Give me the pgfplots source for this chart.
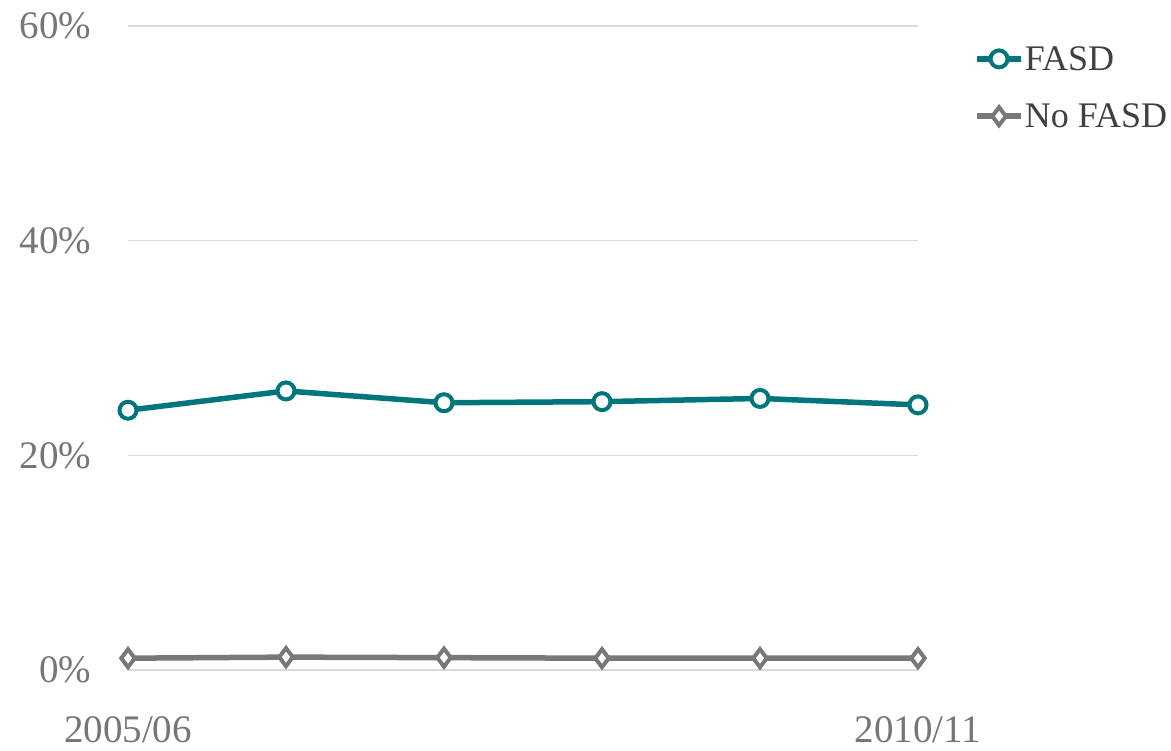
\documentclass[border=0pt]{standalone}
\usepackage{fontspec}
\setmainfont{Liberation Serif}
\usepackage{pgfplots}
\pgfplotsset{compat=1.18}
\definecolor{fasd}{RGB}{0,118,124}
\definecolor{nofasd}{RGB}{118,120,122}
\definecolor{ticktext}{RGB}{118,118,118}
\definecolor{legtext}{RGB}{64,64,64}
\definecolor{gridc}{RGB}{217,217,217}
\begin{document}
\begin{tikzpicture}
\path[use as bounding box] (0bp,0bp) rectangle (1171bp,751bp);
\begin{axis}[
  at={(128bp,81bp)}, anchor=south west,
  scale only axis, width=790bp, height=644bp,
  xmin=0, xmax=5, ymin=0, ymax=60,
  clip=false,
  axis line style={draw=none},
  major tick length=0pt,
  xtick={0,5}, xticklabels={2005/06,2010/11},
  ytick={0,20,40,60},
  ymajorgrids, grid style={gridc, line width=1.2bp},
  yticklabel={\pgfmathprintnumber{\tick}\%},
  /pgf/number format/assume math mode=true,
  tick label style={font=\fontsize{39bp}{42bp}\selectfont, text=ticktext},
  yticklabel style={xshift=-33bp},
  xticklabel style={yshift=-43bp},
  legend style={at={(1.071,0.972)}, anchor=north west, draw=none, fill=none,
    font=\fontsize{36bp}{40bp}\selectfont, text=legtext,
    row sep=28bp, inner xsep=0pt, inner ysep=0pt,
    nodes={inner xsep=1bp}},
  legend cell align=left,
  legend image code/.code={
    \draw[mark repeat=2, mark phase=2, #1] plot coordinates {(0bp,0bp) (22bp,0bp) (44bp,0bp)};
  },
]
\addplot[fasd, line width=5.5bp, mark=*, mark size=8.5bp,
  mark options={fill=white, draw=fasd, line width=4bp}]
  coordinates {(0,24.2) (1,26.0) (2,24.9) (3,25.0) (4,25.3) (5,24.7)};
\addlegendentry{FASD}
\addplot[nofasd, line width=5.5bp, mark=diamond*, mark size=9bp,
  mark options={fill=white, draw=nofasd, line width=4bp}]
  coordinates {(0,1.1) (1,1.2) (2,1.15) (3,1.1) (4,1.1) (5,1.1)};
\addlegendentry{No FASD}
\end{axis}
\end{tikzpicture}
\end{document}
